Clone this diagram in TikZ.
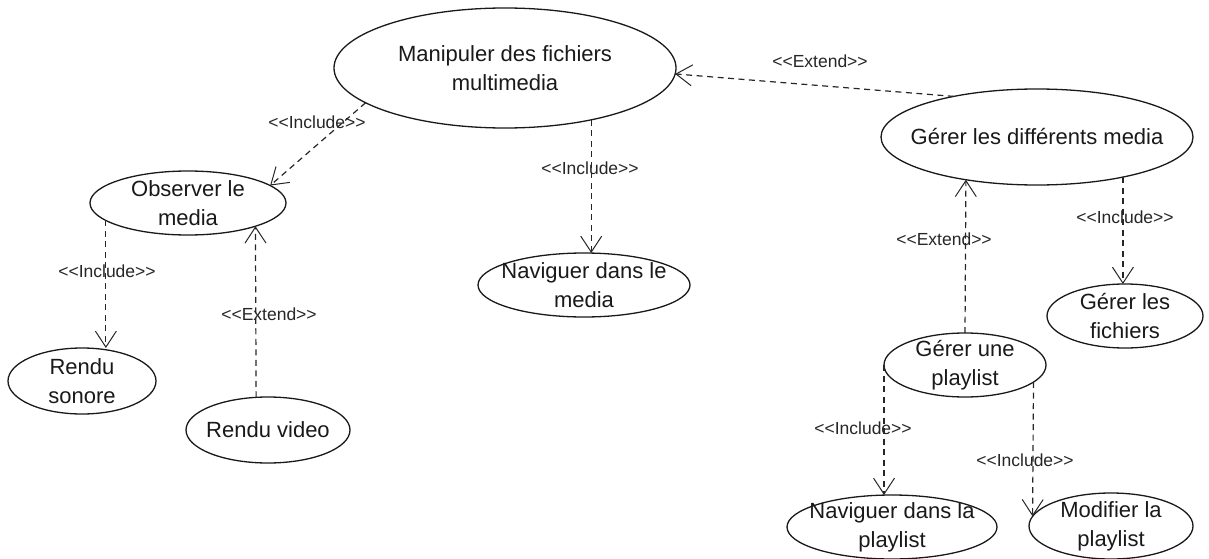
\documentclass[tikz,border=0pt]{standalone}
\usepackage{fontspec}
\setmainfont{Liberation Sans}
\usetikzlibrary{shapes.geometric,arrows.meta}
\newcommand{\incl}{<{}<Include>{}>}
\newcommand{\extd}{<{}<Extend>{}>}
\begin{document}
\begin{tikzpicture}[x=1pt,y=-1pt,
  uc/.style={draw=black!90, line width=1.3pt, ellipse, inner sep=0pt, outer sep=0pt},
  uct/.style={inner sep=0pt, align=center, text=black!90, font=\fontsize{22}{29}\selectfont},
  lbl/.style={inner sep=0pt, text=black!85, font=\fontsize{17.5}{20}\selectfont},
  dep/.style={draw=black!85, line width=1.2pt, dash pattern=on 6pt off 4.5pt,
    -{Straight Barb[length=16pt,width=21pt,line width=1pt]}}]
\useasboundingbox (0,0) rectangle (1209,559);

% use cases
\node[uc, minimum width=342pt, minimum height=120pt] (M) at (505,68) {};
\node[uct] (Mt) at (M.center) {Manipuler des fichiers\\multimedia};

\node[uc, minimum width=312pt, minimum height=96pt] (GLDM) at (1037,137) {};
\node[uct] (GLDMt) at (GLDM.center) {Gérer les différents media};

\node[uc, minimum width=196pt, minimum height=64pt] (O) at (188,203) {};
\node[uct] (Ot) at (O.center) {Observer le\\media};

\node[uc, minimum width=212pt, minimum height=64pt] (NM) at (584,285) {};
\node[uct] (NMt) at (NM.center) {Naviguer dans le\\media};

\node[uc, minimum width=156pt, minimum height=64pt] (GLF) at (1125,316) {};
\node[uct] (GLFt) at (GLF.center) {Gérer les\\fichiers};

\node[uc, minimum width=148pt, minimum height=66pt] (RS) at (82,381) {};
\node[uct] (RSt) at (RS.center) {Rendu\\sonore};

\node[uc, minimum width=164pt, minimum height=66pt] (RV) at (268,430) {};
\node[uct] (RVt) at (RV.center) {Rendu video};

\node[uc, minimum width=162pt, minimum height=64pt] (GP) at (965,365) {};
\node[uct] (GPt) at (GP.center) {Gérer une\\playlist};

\node[uc, minimum width=210pt, minimum height=64pt] (NP) at (892,527) {};
\node[uct] (NPt) at (NP.center) {Naviguer dans la\\playlist};

\node[uc, minimum width=164pt, minimum height=66pt] (MP) at (1111,526) {};
\node[uct] (MPt) at (MP.center) {Modifier la\\playlist};

% connectors
\draw[dep] (M.194) -- (O.12);
\draw[dep] (M.-31) -- (M.-31 |- NM.north);
\draw[dep] (GLDM.154) -- (M.-2);
\draw[dep] (O.192) -- (O.192 |- RS.north);
\draw[dep] (RV.110) -- (O.-19);
\draw[dep] (GP.north) -- (GLDM.211);
\draw[dep] (GLDM.-25) -- (GLDM.-25 |- GLF.north);
\draw[dep] (GP.west) -- (GP.west |- NP.north);
\draw[dep] (GP.-14) -- (MP.173);

% labels
\node[lbl] (l1) at (317,122) {\incl};
\node[lbl] (l2) at (590,168) {\incl};
\node[lbl] (l3) at (820,61) {\extd};
\node[lbl] (l4) at (107,271) {\incl};
\node[lbl] (l5) at (269,314) {\extd};
\node[lbl] (l6) at (944,239) {\extd};
\node[lbl] (l7) at (1125,217) {\incl};
\node[lbl] (l8) at (863,428) {\incl};
\node[lbl] (l9) at (1025,460) {\incl};
\end{tikzpicture}
\end{document}
